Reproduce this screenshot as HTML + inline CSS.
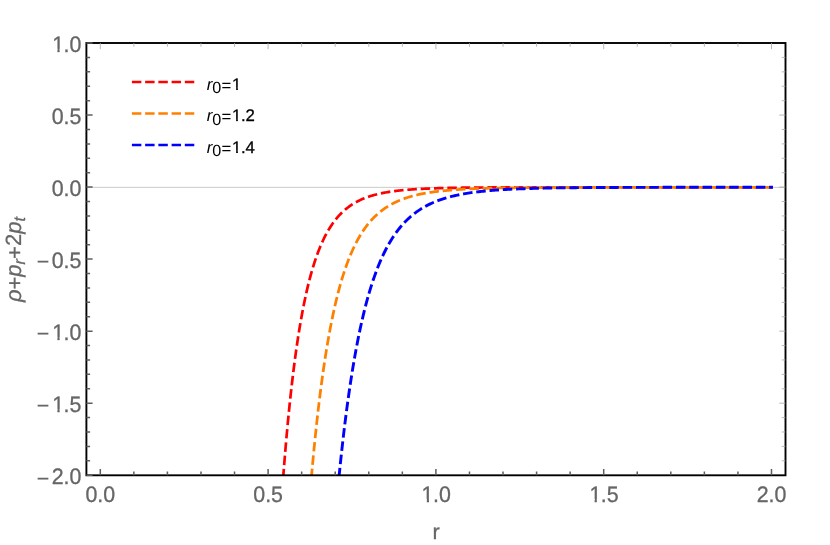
<!DOCTYPE html>
<html lang="en"><head><meta charset="utf-8"><title>plot</title>
<style>html,body{margin:0;padding:0;background:#fff;}body{width:830px;height:545px;overflow:hidden;font-family:"Liberation Sans",sans-serif;}svg{display:block;will-change:transform;}</style>
</head><body>
<svg width="830" height="545" viewBox="0 0 830 545" font-family="'Liberation Sans', sans-serif" text-rendering="geometricPrecision" style="font-kerning:none">
<defs><clipPath id="c1"><path d="M-50,-900 H700 V-135 H346 V40 H245 V-135 H-50 Z"/></clipPath></defs>
<rect x="0" y="0" width="830" height="545" fill="#ffffff"/>
<line x1="86.4" y1="187.35" x2="785.5" y2="187.35" stroke="#bdbdbd" stroke-width="0.8"/>
<g fill="none" stroke-linejoin="round">
<path d="M283.34,475.25 L284.51,460.51 L285.67,446.58 L286.83,433.41 L287.99,420.95 L289.16,409.16 L290.32,398.01 L291.48,387.46 L292.65,377.47 L293.81,368.01 L294.97,359.06 L296.13,350.57 L297.30,342.54 L298.46,334.93 L299.62,327.71 L300.79,320.87 L301.95,314.39 L303.11,308.24 L304.27,302.41 L305.44,296.88 L306.60,291.63 L307.76,286.65 L308.93,281.93 L310.09,277.44 L311.25,273.18 L312.41,269.14 L313.58,265.30 L314.74,261.65 L315.90,258.18 L317.07,254.88 L318.23,251.75 L319.39,248.77 L320.55,245.94 L321.72,243.25 L322.88,240.69 L324.04,238.26 L325.20,235.94 L326.37,233.73 L327.53,231.64 L328.69,229.64 L329.86,227.74 L331.02,225.93 L332.18,224.20 L333.34,222.56 L334.51,221.00 L335.67,219.50 L336.83,218.08 L338.00,216.73 L339.16,215.44 L340.32,214.21 L341.48,213.04 L342.65,211.92 L343.81,210.85 L344.97,209.83 L346.14,208.86 L347.30,207.94 L348.46,207.05 L349.62,206.21 L350.79,205.40 L351.95,204.63 L353.11,203.90 L354.28,203.20 L355.44,202.53 L356.60,201.89 L357.76,201.28 L358.93,200.69 L360.09,200.13 L361.25,199.60 L362.42,199.09 L363.58,198.60 L364.74,198.14 L365.90,197.69 L367.07,197.26 L368.23,196.86 L369.39,196.47 L370.56,196.09 L371.72,195.74 L372.88,195.39 L374.04,195.07 L375.21,194.75 L376.37,194.45 L377.53,194.17 L378.70,193.89 L379.86,193.63 L381.02,193.38 L382.18,193.14 L383.35,192.90 L384.51,192.68 L385.67,192.47 L386.84,192.27 L388.00,192.07 L389.16,191.88 L390.32,191.70 L391.49,191.53 L392.65,191.37 L393.81,191.21 L394.97,191.06 L396.14,190.91 L397.30,190.77 L398.46,190.64 L399.63,190.51 L400.79,190.39 L401.95,190.27 L403.11,190.15 L404.28,190.05 L405.44,189.94 L406.60,189.84 L407.77,189.74 L408.93,189.65 L410.09,189.56 L411.25,189.48 L412.42,189.39 L413.58,189.32 L414.74,189.24 L415.91,189.17 L417.07,189.10 L418.23,189.03 L419.39,188.96 L420.56,188.90 L421.72,188.84 L422.88,188.79 L424.05,188.73 L425.21,188.68 L426.37,188.63 L427.53,188.58 L428.70,188.53 L429.86,188.48 L431.02,188.44 L432.19,188.40 L433.35,188.36 L434.51,188.32 L435.67,188.28 L436.84,188.24 L438.00,188.21 L439.16,188.18 L440.33,188.14 L441.49,188.11 L442.65,188.08 L443.81,188.05 L444.98,188.03 L446.14,188.00 L447.30,187.97 L448.47,187.95 L449.63,187.92 L450.79,187.90 L451.95,187.88 L453.12,187.86 L454.28,187.84 L455.44,187.82 L456.60,187.80 L457.77,187.78 L458.93,187.76 L460.09,187.74 L461.26,187.73 L462.42,187.71 L463.58,187.70 L464.74,187.68 L465.91,187.67 L467.07,187.65 L468.23,187.64 L469.40,187.63 L470.56,187.61 L471.72,187.60 L472.88,187.59 L474.05,187.58 L475.21,187.57 L476.37,187.56 L477.54,187.55 L478.70,187.54 L479.86,187.53 L481.02,187.52 L482.19,187.51 L483.35,187.50 L484.51,187.50 L485.68,187.49 L486.84,187.48 L488.00,187.47 L489.16,187.47 L490.33,187.46 L491.49,187.45 L492.65,187.45 L493.82,187.44 L494.98,187.43 L496.14,187.43 L497.30,187.42 L498.47,187.42 L499.63,187.41 L500.79,187.41 L501.96,187.40 L503.12,187.40 L504.28,187.39 L505.44,187.39 L506.61,187.38 L507.77,187.38 L508.93,187.38 L510.10,187.37 L511.26,187.37 L512.42,187.36 L513.58,187.36 L514.75,187.36 L515.91,187.35 L517.07,187.35 L518.23,187.35 L519.40,187.34 L520.56,187.34 L521.72,187.34 L522.89,187.34 L524.05,187.33 L525.21,187.33 L526.37,187.33 L527.54,187.33 L528.70,187.32 L529.86,187.32 L531.03,187.32 L532.19,187.32 L533.35,187.32 L534.51,187.31 L535.68,187.31 L536.84,187.31 L538.00,187.31 L541.98,187.30 L545.97,187.30 L549.95,187.29 L553.93,187.29 L557.91,187.29 L561.89,187.28 L565.87,187.28 L569.85,187.28 L573.84,187.27 L577.82,187.27 L581.80,187.27 L585.78,187.27 L589.76,187.27 L593.74,187.26 L597.73,187.26 L601.71,187.26 L605.69,187.26 L609.67,187.26 L613.65,187.26 L617.63,187.26 L621.61,187.26 L625.60,187.26 L629.58,187.26 L633.56,187.26 L637.54,187.26 L641.52,187.26 L645.50,187.25 L649.48,187.25 L653.47,187.25 L657.45,187.25 L661.43,187.25 L665.41,187.25 L669.39,187.25 L673.37,187.25 L677.36,187.25 L681.34,187.25 L685.32,187.25 L689.30,187.25 L693.28,187.25 L697.26,187.25 L701.24,187.25 L705.23,187.25 L709.21,187.25 L713.19,187.25 L717.17,187.25 L721.15,187.25 L725.13,187.25 L729.11,187.25 L733.10,187.25 L737.08,187.25 L741.06,187.25 L745.04,187.25 L749.02,187.25 L753.00,187.25 L756.99,187.25 L760.97,187.25 L764.95,187.25 L768.93,187.25 L772.91,187.25" stroke="#ff0000" stroke-width="2.70" stroke-dasharray="9.50 3.84" stroke-dashoffset="3.12"/>
<path d="M311.57,475.25 L312.91,460.51 L314.26,446.58 L315.60,433.41 L316.94,420.95 L318.28,409.16 L319.62,398.01 L320.97,387.46 L322.31,377.47 L323.65,368.01 L324.99,359.06 L326.34,350.57 L327.68,342.54 L329.02,334.93 L330.36,327.71 L331.71,320.87 L333.05,314.39 L334.39,308.24 L335.73,302.41 L337.08,296.88 L338.42,291.63 L339.76,286.65 L341.10,281.93 L342.44,277.44 L343.79,273.18 L345.13,269.14 L346.47,265.30 L347.81,261.65 L349.16,258.18 L350.50,254.88 L351.84,251.75 L353.18,248.77 L354.53,245.94 L355.87,243.25 L357.21,240.69 L358.55,238.26 L359.90,235.94 L361.24,233.73 L362.58,231.64 L363.92,229.64 L365.26,227.74 L366.61,225.93 L367.95,224.20 L369.29,222.56 L370.63,221.00 L371.98,219.50 L373.32,218.08 L374.66,216.73 L376.00,215.44 L377.35,214.21 L378.69,213.04 L380.03,211.92 L381.37,210.85 L382.72,209.83 L384.06,208.86 L385.40,207.94 L386.74,207.05 L388.08,206.21 L389.43,205.40 L390.77,204.63 L392.11,203.90 L393.45,203.20 L394.80,202.53 L396.14,201.89 L397.48,201.28 L398.82,200.69 L400.17,200.13 L401.51,199.60 L402.85,199.09 L404.19,198.60 L405.54,198.14 L406.88,197.69 L408.22,197.26 L409.56,196.86 L410.90,196.47 L412.25,196.09 L413.59,195.74 L414.93,195.39 L416.27,195.07 L417.62,194.75 L418.96,194.45 L420.30,194.17 L421.64,193.89 L422.99,193.63 L424.33,193.38 L425.67,193.14 L427.01,192.90 L428.36,192.68 L429.70,192.47 L431.04,192.27 L432.38,192.07 L433.72,191.88 L435.07,191.70 L436.41,191.53 L437.75,191.37 L439.09,191.21 L440.44,191.06 L441.78,190.91 L443.12,190.77 L444.46,190.64 L445.81,190.51 L447.15,190.39 L448.49,190.27 L449.83,190.15 L451.18,190.05 L452.52,189.94 L453.86,189.84 L455.20,189.74 L456.54,189.65 L457.89,189.56 L459.23,189.48 L460.57,189.39 L461.91,189.32 L463.26,189.24 L464.60,189.17 L465.94,189.10 L467.28,189.03 L468.63,188.96 L469.97,188.90 L471.31,188.84 L472.65,188.79 L474.00,188.73 L475.34,188.68 L476.68,188.63 L478.02,188.58 L479.36,188.53 L480.71,188.48 L482.05,188.44 L483.39,188.40 L484.73,188.36 L486.08,188.32 L487.42,188.28 L488.76,188.24 L490.10,188.21 L491.45,188.18 L492.79,188.14 L494.13,188.11 L495.47,188.08 L496.82,188.05 L498.16,188.03 L499.50,188.00 L500.84,187.97 L502.18,187.95 L503.53,187.92 L504.87,187.90 L506.21,187.88 L507.55,187.86 L508.90,187.84 L510.24,187.82 L511.58,187.80 L512.92,187.78 L514.27,187.76 L515.61,187.74 L516.95,187.73 L518.29,187.71 L519.64,187.70 L520.98,187.68 L522.32,187.67 L523.66,187.65 L525.00,187.64 L526.35,187.63 L527.69,187.61 L529.03,187.60 L530.37,187.59 L531.72,187.58 L533.06,187.57 L534.40,187.56 L535.74,187.55 L537.09,187.54 L538.43,187.53 L539.77,187.52 L541.11,187.51 L542.46,187.50 L543.80,187.50 L545.14,187.49 L546.48,187.48 L547.82,187.47 L549.17,187.47 L550.51,187.46 L551.85,187.45 L553.19,187.45 L554.54,187.44 L555.88,187.43 L557.22,187.43 L558.56,187.42 L559.91,187.42 L561.25,187.41 L562.59,187.41 L563.93,187.40 L565.28,187.40 L566.62,187.39 L567.96,187.39 L569.30,187.38 L570.64,187.38 L571.99,187.38 L573.33,187.37 L574.67,187.37 L576.01,187.36 L577.36,187.36 L578.70,187.36 L580.04,187.35 L581.38,187.35 L582.73,187.35 L584.07,187.34 L585.41,187.34 L586.75,187.34 L588.10,187.34 L589.44,187.33 L590.78,187.33 L592.12,187.33 L593.46,187.33 L594.81,187.32 L596.15,187.32 L597.49,187.32 L598.83,187.32 L600.18,187.32 L601.52,187.31 L602.86,187.31 L604.20,187.31 L605.55,187.31 L608.38,187.30 L611.22,187.30 L614.06,187.30 L616.89,187.30 L619.73,187.29 L622.57,187.29 L625.40,187.29 L628.24,187.29 L631.08,187.28 L633.91,187.28 L636.75,187.28 L639.59,187.28 L642.42,187.28 L645.26,187.27 L648.10,187.27 L650.93,187.27 L653.77,187.27 L656.61,187.27 L659.44,187.27 L662.28,187.27 L665.12,187.27 L667.95,187.27 L670.79,187.26 L673.63,187.26 L676.46,187.26 L679.30,187.26 L682.14,187.26 L684.97,187.26 L687.81,187.26 L690.65,187.26 L693.48,187.26 L696.32,187.26 L699.16,187.26 L701.99,187.26 L704.83,187.26 L707.67,187.26 L710.50,187.26 L713.34,187.26 L716.18,187.26 L719.01,187.26 L721.85,187.26 L724.69,187.26 L727.52,187.25 L730.36,187.25 L733.20,187.25 L736.03,187.25 L738.87,187.25 L741.71,187.25 L744.54,187.25 L747.38,187.25 L750.22,187.25 L753.05,187.25 L755.89,187.25 L758.73,187.25 L761.56,187.25 L764.40,187.25 L767.24,187.25 L770.07,187.25 L772.91,187.25" stroke="#ff8000" stroke-width="2.75" stroke-dasharray="9.50 3.85" stroke-dashoffset="2.83"/>
<path d="M339.16,475.25 L340.68,460.51 L342.20,446.58 L343.71,433.41 L345.23,420.95 L346.75,409.16 L348.27,398.01 L349.79,387.46 L351.30,377.47 L352.82,368.01 L354.34,359.06 L355.86,350.57 L357.38,342.54 L358.89,334.93 L360.41,327.71 L361.93,320.87 L363.45,314.39 L364.96,308.24 L366.48,302.41 L368.00,296.88 L369.52,291.63 L371.04,286.65 L372.55,281.93 L374.07,277.44 L375.59,273.18 L377.11,269.14 L378.62,265.30 L380.14,261.65 L381.66,258.18 L383.18,254.88 L384.70,251.75 L386.21,248.77 L387.73,245.94 L389.25,243.25 L390.77,240.69 L392.28,238.26 L393.80,235.94 L395.32,233.73 L396.84,231.64 L398.36,229.64 L399.87,227.74 L401.39,225.93 L402.91,224.20 L404.43,222.56 L405.95,221.00 L407.46,219.50 L408.98,218.08 L410.50,216.73 L412.02,215.44 L413.53,214.21 L415.05,213.04 L416.57,211.92 L418.09,210.85 L419.61,209.83 L421.12,208.86 L422.64,207.94 L424.16,207.05 L425.68,206.21 L427.19,205.40 L428.71,204.63 L430.23,203.90 L431.75,203.20 L433.27,202.53 L434.78,201.89 L436.30,201.28 L437.82,200.69 L439.34,200.13 L440.86,199.60 L442.37,199.09 L443.89,198.60 L445.41,198.14 L446.93,197.69 L448.44,197.26 L449.96,196.86 L451.48,196.47 L453.00,196.09 L454.52,195.74 L456.03,195.39 L457.55,195.07 L459.07,194.75 L460.59,194.45 L462.10,194.17 L463.62,193.89 L465.14,193.63 L466.66,193.38 L468.18,193.14 L469.69,192.90 L471.21,192.68 L472.73,192.47 L474.25,192.27 L475.76,192.07 L477.28,191.88 L478.80,191.70 L480.32,191.53 L481.84,191.37 L483.35,191.21 L484.87,191.06 L486.39,190.91 L487.91,190.77 L489.43,190.64 L490.94,190.51 L492.46,190.39 L493.98,190.27 L495.50,190.15 L497.01,190.05 L498.53,189.94 L500.05,189.84 L501.57,189.74 L503.09,189.65 L504.60,189.56 L506.12,189.48 L507.64,189.39 L509.16,189.32 L510.67,189.24 L512.19,189.17 L513.71,189.10 L515.23,189.03 L516.75,188.96 L518.26,188.90 L519.78,188.84 L521.30,188.79 L522.82,188.73 L524.34,188.68 L525.85,188.63 L527.37,188.58 L528.89,188.53 L530.41,188.48 L531.92,188.44 L533.44,188.40 L534.96,188.36 L536.48,188.32 L538.00,188.28 L539.51,188.24 L541.03,188.21 L542.55,188.18 L544.07,188.14 L545.58,188.11 L547.10,188.08 L548.62,188.05 L550.14,188.03 L551.66,188.00 L553.17,187.97 L554.69,187.95 L556.21,187.92 L557.73,187.90 L559.24,187.88 L560.76,187.86 L562.28,187.84 L563.80,187.82 L565.32,187.80 L566.83,187.78 L568.35,187.76 L569.87,187.74 L571.39,187.73 L572.91,187.71 L574.42,187.70 L575.94,187.68 L577.46,187.67 L578.98,187.65 L580.49,187.64 L582.01,187.63 L583.53,187.61 L585.05,187.60 L586.57,187.59 L588.08,187.58 L589.60,187.57 L591.12,187.56 L592.64,187.55 L594.15,187.54 L595.67,187.53 L597.19,187.52 L598.71,187.51 L600.23,187.50 L601.74,187.50 L603.26,187.49 L604.78,187.48 L606.30,187.47 L607.82,187.47 L609.33,187.46 L610.85,187.45 L612.37,187.45 L613.89,187.44 L615.40,187.43 L616.92,187.43 L618.44,187.42 L619.96,187.42 L621.48,187.41 L622.99,187.41 L624.51,187.40 L626.03,187.40 L627.55,187.39 L629.06,187.39 L630.58,187.38 L632.10,187.38 L633.62,187.38 L635.14,187.37 L636.65,187.37 L638.17,187.36 L639.69,187.36 L641.21,187.36 L642.72,187.35 L644.24,187.35 L645.76,187.35 L647.28,187.34 L648.80,187.34 L650.31,187.34 L651.83,187.34 L653.35,187.33 L654.87,187.33 L656.39,187.33 L657.90,187.33 L659.42,187.32 L660.94,187.32 L662.46,187.32 L663.97,187.32 L665.49,187.32 L667.01,187.31 L668.53,187.31 L670.05,187.31 L671.56,187.31 L673.28,187.31 L675.00,187.30 L676.72,187.30 L678.43,187.30 L680.15,187.30 L681.87,187.30 L683.59,187.30 L685.31,187.29 L687.02,187.29 L688.74,187.29 L690.46,187.29 L692.18,187.29 L693.89,187.29 L695.61,187.29 L697.33,187.29 L699.05,187.28 L700.77,187.28 L702.48,187.28 L704.20,187.28 L705.92,187.28 L707.64,187.28 L709.35,187.28 L711.07,187.28 L712.79,187.28 L714.51,187.28 L716.23,187.27 L717.94,187.27 L719.66,187.27 L721.38,187.27 L723.10,187.27 L724.81,187.27 L726.53,187.27 L728.25,187.27 L729.97,187.27 L731.69,187.27 L733.40,187.27 L735.12,187.27 L736.84,187.27 L738.56,187.27 L740.27,187.27 L741.99,187.27 L743.71,187.27 L745.43,187.26 L747.14,187.26 L748.86,187.26 L750.58,187.26 L752.30,187.26 L754.02,187.26 L755.73,187.26 L757.45,187.26 L759.17,187.26 L760.89,187.26 L762.60,187.26 L764.32,187.26 L766.04,187.26 L767.76,187.26 L769.48,187.26 L771.19,187.26 L772.91,187.26" stroke="#0000ff" stroke-width="2.90" stroke-dasharray="9.50 3.82" stroke-dashoffset="2.11"/>
</g>
<rect x="86.4" y="43.0" width="699.1" height="432.3" fill="none" stroke="#000000" stroke-width="1.9"/>
<path d="M100.30,43.00 v6.20 M133.86,43.00 v3.70 M167.42,43.00 v3.70 M200.98,43.00 v3.70 M234.54,43.00 v3.70 M268.10,43.00 v6.20 M301.66,43.00 v3.70 M335.22,43.00 v3.70 M368.78,43.00 v3.70 M402.34,43.00 v3.70 M435.90,43.00 v6.20 M469.46,43.00 v3.70 M503.02,43.00 v3.70 M536.58,43.00 v3.70 M570.14,43.00 v3.70 M603.70,43.00 v6.20 M637.26,43.00 v3.70 M670.82,43.00 v3.70 M704.38,43.00 v3.70 M737.94,43.00 v3.70 M771.50,43.00 v6.20 M785.45,460.79 h-3.70 M785.45,446.39 h-3.70 M785.45,431.99 h-3.70 M785.45,417.58 h-3.70 M785.45,403.18 h-6.20 M785.45,388.77 h-3.70 M785.45,374.37 h-3.70 M785.45,359.96 h-3.70 M785.45,345.56 h-3.70 M785.45,331.15 h-6.20 M785.45,316.75 h-3.70 M785.45,302.34 h-3.70 M785.45,287.94 h-3.70 M785.45,273.53 h-3.70 M785.45,259.12 h-6.20 M785.45,244.72 h-3.70 M785.45,230.31 h-3.70 M785.45,215.91 h-3.70 M785.45,201.50 h-3.70 M785.45,187.10 h-6.20 M785.45,172.69 h-3.70 M785.45,158.29 h-3.70 M785.45,143.88 h-3.70 M785.45,129.48 h-3.70 M785.45,115.07 h-6.20 M785.45,100.67 h-3.70 M785.45,86.26 h-3.70 M785.45,71.86 h-3.70 M785.45,57.45 h-3.70" stroke="#a6a6a6" stroke-width="0.8" fill="none"/>
<path d="M100.30,475.30 v-6.20 M133.86,475.30 v-3.70 M167.42,475.30 v-3.70 M200.98,475.30 v-3.70 M234.54,475.30 v-3.70 M268.10,475.30 v-6.20 M301.66,475.30 v-3.70 M335.22,475.30 v-3.70 M368.78,475.30 v-3.70 M402.34,475.30 v-3.70 M435.90,475.30 v-6.20 M469.46,475.30 v-3.70 M503.02,475.30 v-3.70 M536.58,475.30 v-3.70 M570.14,475.30 v-3.70 M603.70,475.30 v-6.20 M637.26,475.30 v-3.70 M670.82,475.30 v-3.70 M704.38,475.30 v-3.70 M737.94,475.30 v-3.70 M771.50,475.30 v-6.20 M86.40,475.20 h6.20 M86.40,460.79 h3.70 M86.40,446.39 h3.70 M86.40,431.99 h3.70 M86.40,417.58 h3.70 M86.40,403.18 h6.20 M86.40,388.77 h3.70 M86.40,374.37 h3.70 M86.40,359.96 h3.70 M86.40,345.56 h3.70 M86.40,331.15 h6.20 M86.40,316.75 h3.70 M86.40,302.34 h3.70 M86.40,287.94 h3.70 M86.40,273.53 h3.70 M86.40,259.12 h6.20 M86.40,244.72 h3.70 M86.40,230.31 h3.70 M86.40,215.91 h3.70 M86.40,201.50 h3.70 M86.40,187.10 h6.20 M86.40,172.69 h3.70 M86.40,158.29 h3.70 M86.40,143.88 h3.70 M86.40,129.48 h3.70 M86.40,115.07 h6.20 M86.40,100.67 h3.70 M86.40,86.26 h3.70 M86.40,71.86 h3.70 M86.40,57.45 h3.70 M86.40,43.05 h6.20" stroke="#5e5e5e" stroke-width="1.5" fill="none"/>
<g transform="translate(85.48,502.10) scale(0.9550,1)" fill="#666666" stroke="#666666" stroke-width="0.30"><text x="0.00" y="0" font-size="22.40">0.0</text></g>
<g transform="translate(253.28,502.10) scale(0.9550,1)" fill="#666666" stroke="#666666" stroke-width="0.30"><text x="0.00" y="0" font-size="22.40">0.5</text></g>
<g transform="translate(421.08,502.10) scale(0.9550,1)" fill="#666666" stroke="#666666" stroke-width="0.30"><g transform="translate(0.56,0) scale(0.02240)"><text x="0" y="0" font-size="1000" clip-path="url(#c1)" stroke-width="13.4">1</text></g><text x="12.46" y="0" font-size="22.40">.0</text></g>
<g transform="translate(588.88,502.10) scale(0.9550,1)" fill="#666666" stroke="#666666" stroke-width="0.30"><g transform="translate(0.56,0) scale(0.02240)"><text x="0" y="0" font-size="1000" clip-path="url(#c1)" stroke-width="13.4">1</text></g><text x="12.46" y="0" font-size="22.40">.5</text></g>
<g transform="translate(756.68,502.10) scale(0.9550,1)" fill="#666666" stroke="#666666" stroke-width="0.30"><text x="0.00" y="0" font-size="22.40">2.0</text></g>
<g transform="translate(51.66,51.85) scale(0.9550,1)" fill="#666666" stroke="#666666" stroke-width="0.30"><g transform="translate(0.56,0) scale(0.02240)"><text x="0" y="0" font-size="1000" clip-path="url(#c1)" stroke-width="13.4">1</text></g><text x="12.46" y="0" font-size="22.40">.0</text></g>
<g transform="translate(51.66,123.87) scale(0.9550,1)" fill="#666666" stroke="#666666" stroke-width="0.30"><text x="0.00" y="0" font-size="22.40">0.5</text></g>
<g transform="translate(51.66,195.90) scale(0.9550,1)" fill="#666666" stroke="#666666" stroke-width="0.30"><text x="0.00" y="0" font-size="22.40">0.0</text></g>
<g transform="translate(51.66,267.93) scale(0.9550,1)" fill="#666666" stroke="#666666" stroke-width="0.30"><text x="0.00" y="0" font-size="22.40">0.5</text></g>
<text x="0.00" y="269.43" font-size="22.40" fill="#666666" stroke="#666666" stroke-width="0.2" transform="translate(36.70,0) scale(0.955,1)">−</text>
<g transform="translate(51.66,339.95) scale(0.9550,1)" fill="#666666" stroke="#666666" stroke-width="0.30"><g transform="translate(0.56,0) scale(0.02240)"><text x="0" y="0" font-size="1000" clip-path="url(#c1)" stroke-width="13.4">1</text></g><text x="12.46" y="0" font-size="22.40">.0</text></g>
<text x="0.00" y="341.45" font-size="22.40" fill="#666666" stroke="#666666" stroke-width="0.2" transform="translate(36.70,0) scale(0.955,1)">−</text>
<g transform="translate(51.66,411.98) scale(0.9550,1)" fill="#666666" stroke="#666666" stroke-width="0.30"><g transform="translate(0.56,0) scale(0.02240)"><text x="0" y="0" font-size="1000" clip-path="url(#c1)" stroke-width="13.4">1</text></g><text x="12.46" y="0" font-size="22.40">.5</text></g>
<text x="0.00" y="413.48" font-size="22.40" fill="#666666" stroke="#666666" stroke-width="0.2" transform="translate(36.70,0) scale(0.955,1)">−</text>
<g transform="translate(51.66,484.00) scale(0.9550,1)" fill="#666666" stroke="#666666" stroke-width="0.30"><text x="0.00" y="0" font-size="22.40">2.0</text></g>
<text x="0.00" y="485.50" font-size="22.40" fill="#666666" stroke="#666666" stroke-width="0.2" transform="translate(36.70,0) scale(0.955,1)">−</text>
<text x="432.55" y="539.0" font-size="21.6" fill="#666666" stroke="#666666" stroke-width="0.3">r</text>
<g transform="translate(21.1,259.6) rotate(-90)" fill="#666666" stroke="#666666" stroke-width="0.25" font-size="22"><text x="0" y="0" text-anchor="middle"><tspan font-style="italic">ρ</tspan><tspan dy="1.3">+</tspan><tspan font-style="italic" dy="-1.3">p</tspan><tspan font-style="italic" font-size="16.3" dy="4.2">r</tspan><tspan dy="-2.9">+</tspan><tspan dy="-1.3">2</tspan><tspan font-style="italic">p</tspan><tspan font-style="italic" font-size="16.3" dy="4.2">t</tspan></text></g>
<path d="M131.9,82.0 H195" stroke="#ff0000" stroke-width="2.6" stroke-dasharray="9.45 3.78" fill="none"/>
<text x="206.70" y="89.50" font-size="16.8" font-style="italic" fill="#000">r</text>
<text x="212.29" y="93.30" font-size="16.2" fill="#000">0</text>
<text x="221.40" y="90.50" font-size="16.8" fill="#000">=</text>
<g transform="translate(231.62,89.50) scale(1.0000,1)" fill="#000" stroke="#000" stroke-width="0.30"><g transform="translate(0.42,0) scale(0.01680)"><text x="0" y="0" font-size="1000" clip-path="url(#c1)" stroke-width="17.9">1</text></g></g>
<path d="M131.9,113.5 H195" stroke="#ff8000" stroke-width="2.6" stroke-dasharray="9.45 3.78" fill="none"/>
<text x="206.70" y="121.00" font-size="16.8" font-style="italic" fill="#000">r</text>
<text x="212.29" y="124.80" font-size="16.2" fill="#000">0</text>
<text x="221.40" y="122.00" font-size="16.8" fill="#000">=</text>
<g transform="translate(231.62,121.00) scale(1.0000,1)" fill="#000" stroke="#000" stroke-width="0.30"><g transform="translate(0.42,0) scale(0.01680)"><text x="0" y="0" font-size="1000" clip-path="url(#c1)" stroke-width="17.9">1</text></g><text x="9.34" y="0" font-size="16.80">.2</text></g>
<path d="M131.9,145.0 H195" stroke="#0000ff" stroke-width="2.6" stroke-dasharray="9.45 3.78" fill="none"/>
<text x="206.70" y="152.50" font-size="16.8" font-style="italic" fill="#000">r</text>
<text x="212.29" y="156.30" font-size="16.2" fill="#000">0</text>
<text x="221.40" y="153.50" font-size="16.8" fill="#000">=</text>
<g transform="translate(231.62,152.50) scale(1.0000,1)" fill="#000" stroke="#000" stroke-width="0.30"><g transform="translate(0.42,0) scale(0.01680)"><text x="0" y="0" font-size="1000" clip-path="url(#c1)" stroke-width="17.9">1</text></g><text x="9.34" y="0" font-size="16.80">.4</text></g>
</svg>
</body></html>
